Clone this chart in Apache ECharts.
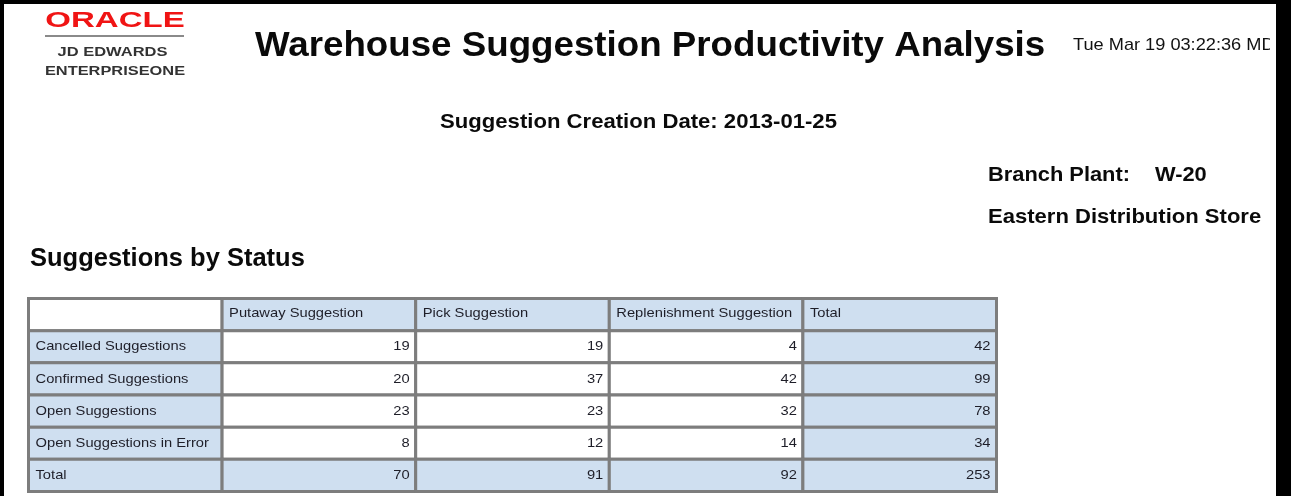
<!DOCTYPE html>
<html>
<head>
<meta charset="utf-8">
<script src="https://cdn.jsdelivr.net/npm/echarts@6/dist/echarts.min.js"></script>
<style>
html,body{margin:0;padding:0;background:#fff;}
#chart{width:1291px;height:496px;}
</style>
</head>
<body>
<div id="chart"></div>
<script>
// ---- data ----
const columnHeaders = ['Putaway Suggestion', 'Pick Suggestion', 'Replenishment Suggestion', 'Total'];
const statuses = ['Cancelled Suggestions', 'Confirmed Suggestions', 'Open Suggestions', 'Open Suggestions in Error', 'Total'];
const putaway = [19, 20, 23, 8, 70];
const pick = [19, 37, 23, 12, 91];
const replenishment = [4, 42, 32, 14, 92];
const totals = [42, 99, 78, 34, 253];

const reportTitle = 'Warehouse Suggestion Productivity Analysis';
const runStamp = 'Tue Mar 19 03:22:36 MDT';
const creationDate = 'Suggestion Creation Date: 2013-01-25';
const branchLabel = 'Branch Plant:';
const branchCode = 'W-20';
const branchName = 'Eastern Distribution Store';
const sectionTitle = 'Suggestions by Status';

// ---- build table cells ----
const colKeys = ['label'].concat(columnHeaders);
const rowKeys = ['header'].concat(statuses);
const valueCols = [putaway, pick, replenishment, totals];
const cells = [];
for (let r = 0; r < rowKeys.length; r++) {
  for (let c = 0; c < colKeys.length; c++) {
    let text = '';
    if (r === 0 && c > 0) text = columnHeaders[c - 1];
    else if (r > 0 && c === 0) text = statuses[r - 1];
    else if (r > 0 && c > 0) text = String(valueCols[c - 1][r - 1]);
    cells.push([c, r, text]);
  }
}

const FONT = "'Liberation Sans', Arial, sans-serif";
const BLUE = '#cfdff0';
const GRID = '#7d7d7d';
const TXT = '#1e1e28';

function renderCell(params, api) {
  const c = api.value(0), r = api.value(1);
  const text = cells[params.dataIndex][2];
  const center = api.coord([c, r]);
  const size = api.size([1, 1]);
  const x0 = center[0] - size[0] / 2, y0 = center[1] - size[1] / 2;
  const nCols = colKeys.length, nRows = rowKeys.length;
  let fill = '#ffffff';
  if (r === 0 && c > 0) fill = BLUE;
  if (r > 0 && c === 0) fill = BLUE;
  if (c === nCols - 1) fill = BLUE;
  if (r === nRows - 1) fill = BLUE;
  if (r === 0 && c === 0) fill = '#ffffff';
  const isNum = r > 0 && c > 0;
  const children = [{
    type: 'rect',
    shape: { x: x0, y: y0, width: size[0], height: size[1] },
    style: { fill: fill, stroke: GRID, lineWidth: 3 }
  }];
  if (text) {
    children.push({
      type: 'text',
      x: isNum ? x0 + size[0] - 6 : x0 + 7,
      y: center[1] - (r === 0 ? 1.5 : 0),
      scaleX: 1.09,
      style: {
        text: text, fill: TXT, fontSize: 13.5, fontFamily: FONT,
        align: isNum ? 'right' : 'left', verticalAlign: 'middle'
      }
    });
  }
  return { type: 'group', children: children };
}

const chart = echarts.init(document.getElementById('chart'), null, { renderer: 'canvas' });

function txt(x, y, text, size, weight, scaleX, align, color, z) {
  return {
    type: 'text', x: x, y: y, scaleX: scaleX || 1, z: z || 10,
    style: {
      text: text, fontSize: size, fontWeight: weight, fontFamily: FONT,
      fill: color || '#111', align: align || 'left', verticalAlign: 'middle'
    }
  };
}

chart.setOption({
  animation: false,
  backgroundColor: '#ffffff',
  grid: { left: 28.5, top: 298.5, width: 968, height: 193, containLabel: false },
  xAxis: { type: 'category', data: colKeys, show: false, boundaryGap: true },
  yAxis: { type: 'category', data: rowKeys, show: false, inverse: true, boundaryGap: true },
  series: [{
    type: 'custom',
    coordinateSystem: 'cartesian2d',
    renderItem: renderCell,
    data: cells.map(d => [d[0], d[1]]),
    silent: true
  }],
  graphic: [
    // logo
    txt(115, 21, 'ORACLE', 22, 'bold', 1.5, 'center', '#f01414'),
    { type: 'line', shape: { x1: 45, y1: 36, x2: 184, y2: 36 }, style: { stroke: '#8a8a8a', lineWidth: 2 } },
    txt(112.5, 53, 'JD EDWARDS', 12.5, 'bold', 1.32, 'center', '#333'),
    txt(115, 72, 'ENTERPRISEONE', 12.5, 'bold', 1.31, 'center', '#333'),
    // headings
    txt(255, 46.5, reportTitle, 35, 'bold', 1.049, 'left', '#0a0a0a'),
    txt(1073, 45.5, runStamp, 17, 'normal', 1.07, 'left', '#111'),
    txt(638.5, 122.5, creationDate, 21, 'bold', 1.053, 'center', '#0a0a0a'),
    txt(988, 175, branchLabel, 21, 'bold', 1.04, 'left', '#0a0a0a'),
    txt(1155, 175, branchCode, 21, 'bold', 1.04, 'left', '#0a0a0a'),
    txt(988, 217, branchName, 21, 'bold', 1.05, 'left', '#0a0a0a'),
    txt(30, 259.5, sectionTitle, 25, 'bold', 1.02, 'left', '#0a0a0a'),
    // clip area + frame
    { type: 'rect', z: 20, shape: { x: 1270, y: 4, width: 6, height: 80 }, style: { fill: '#ffffff' } },
    { type: 'rect', z: 21, shape: { x: 0, y: 0, width: 1291, height: 4 }, style: { fill: '#000' } },
    { type: 'rect', z: 21, shape: { x: 0, y: 0, width: 4, height: 496 }, style: { fill: '#000' } },
    { type: 'rect', z: 21, shape: { x: 1276, y: 0, width: 15, height: 496 }, style: { fill: '#000' } }
  ]
});
</script>
</body>
</html>
